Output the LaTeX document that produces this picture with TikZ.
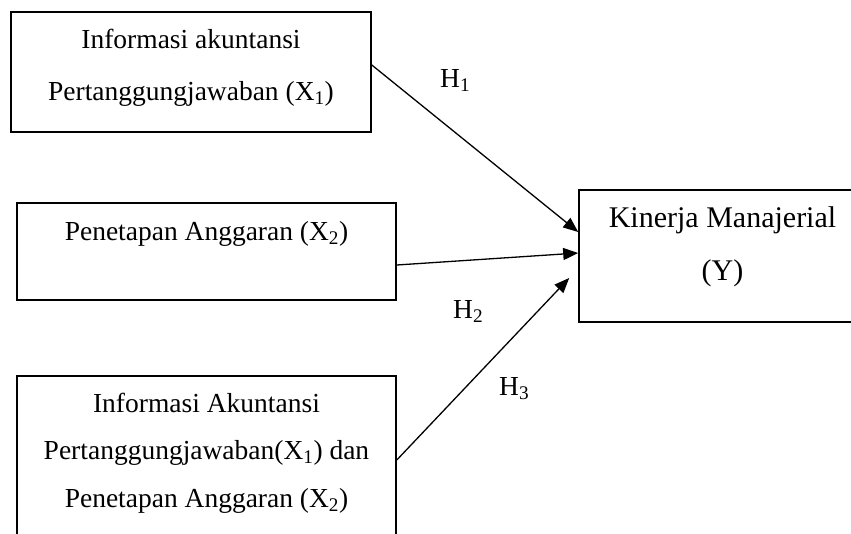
\documentclass[tikz,border=0pt]{standalone}
\usepackage{fontspec}
\setmainfont{Liberation Serif}
\usetikzlibrary{arrows.meta}

\begin{document}
\begin{tikzpicture}[x=1pt,y=-1pt,
  frame/.style={draw, line width=1.6pt, rectangle, inner sep=0pt},
  boxtext/.style={inner sep=0pt, anchor=base, align=center},
  hyp/.style={inner sep=0pt, anchor=base west, font=\fontsize{27.5}{33}\selectfont},
  link/.style={line width=1.3pt, -{Triangle[length=15pt,width=12pt]}}]

  % page extent, cropped at the picture edges
  \useasboundingbox (0,0) rectangle (851,533);
  \clip (0,0) rectangle (851,533);

  % frames
  \node[frame, minimum width=360pt, minimum height=120pt] (b1) at (191,72) {};
  \node[frame, minimum width=379pt, minimum height=97pt]  (b2) at (206.5,251.5) {};
  \node[frame, minimum width=379pt, minimum height=184pt] (b3) at (206.5,468) {};
  \node[frame, minimum width=287pt, minimum height=132pt] (bY) at (722.5,256) {};

  % texts inside the frames (placed by the baseline of their last line)
  \node[boxtext, font=\fontsize{27.5}{52}\selectfont] (t1) at (191,100)
    {Informasi akuntansi\\Pertanggungjawaban (X\textsubscript{1})};
  \node[boxtext, font=\fontsize{27.5}{33}\selectfont] (t2) at (206.5,240)
    {Penetapan Anggaran (X\textsubscript{2})};
  \node[boxtext, font=\fontsize{27.5}{47.5}\selectfont] (t3) at (206.5,507)
    {Informasi Akuntansi\\Pertanggungjawaban(X\textsubscript{1}) dan\\Penetapan Anggaran (X\textsubscript{2})};
  \node[boxtext, font=\fontsize{30}{53}\selectfont] (tY) at (722.5,280)
    {Kinerja Manajerial\\(Y)};

  % hypothesis arrows
  \draw[link] ([yshift=7pt]b1.east) -- ([yshift=24pt]bY.west);
  \draw[link] ([yshift=-13.5pt]b2.east) -- ([yshift=3pt]bY.west);
  \draw[link] ([yshift=8pt]b3.east) -- ([xshift=-9pt,yshift=-22pt]bY.west);

  % hypothesis labels
  \node[hyp] (h1) at (440,87)  {H\textsubscript{1}};
  \node[hyp] (h2) at (453,318) {H\textsubscript{2}};
  \node[hyp] (h3) at (499,395) {H\textsubscript{3}};
\end{tikzpicture}
\end{document}
